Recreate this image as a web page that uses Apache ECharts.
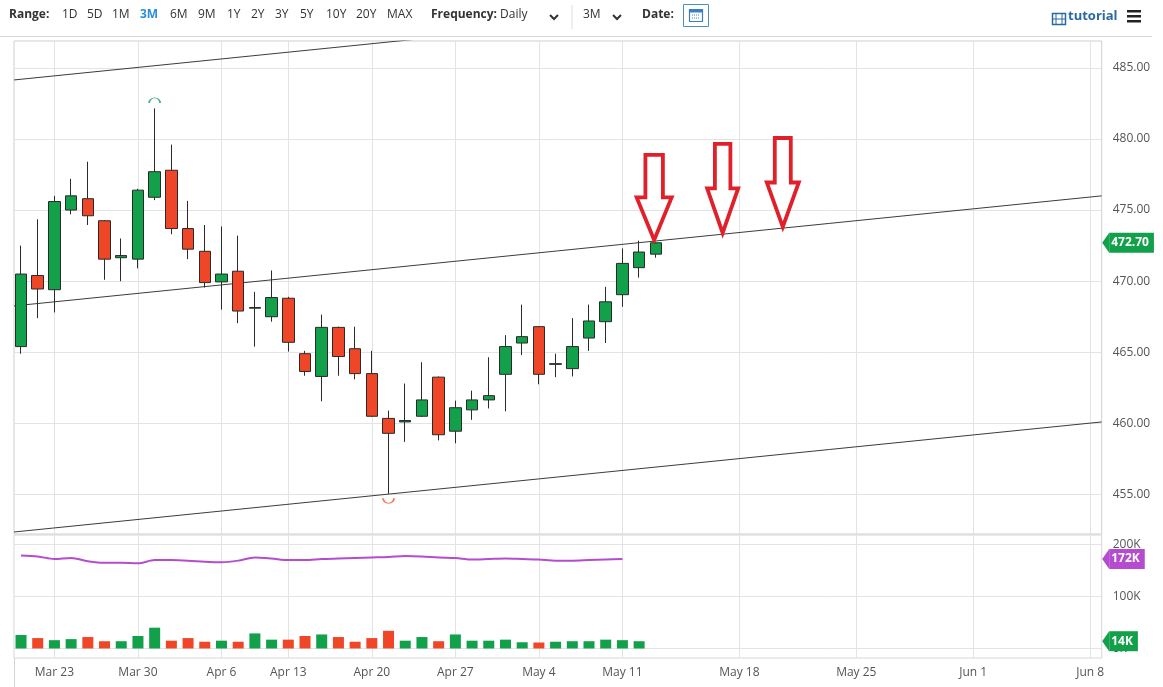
<!DOCTYPE html>
<html lang="en">
<head>
<meta charset="UTF-8">
<script src="https://cdn.jsdelivr.net/npm/echarts@6/dist/echarts.min.js"></script>
<title>Chart</title>
<style>
    html, body { margin: 0; padding: 0; background: #fff; }
    #main { width: 1163px; height: 687px; }
</style>
</head>
<body>
<div id="main"></div>
<script>
    // x ticks: trading-day index of each Monday label (future part runs on calendar days)
    var tickIdx = [2, 7, 12, 16, 21, 26, 31, 36, 43, 50, 57, 64];
    var tickLabels = ['Mar 23', 'Mar 30', 'Apr 6', 'Apr 13', 'Apr 20', 'Apr 27', 'May 4', 'May 11', 'May 18', 'May 25', 'Jun 1', 'Jun 8'];

    var opens  = [465.4, 470.4, 469.4, 475.0, 475.8, 474.25, 471.65, 471.55, 475.9, 477.8, 473.7, 472.1, 469.95, 470.7, 468.1, 467.5, 468.8, 464.9, 463.3, 466.75,
                  465.25, 463.5, 460.35, 460.1, 460.5, 463.25, 459.45, 460.95, 461.65, 463.45, 465.65, 466.8, 464.15, 463.85, 466.0, 467.15, 469.05, 470.95, 471.9];
    var closes = [470.5, 469.45, 475.6, 476.0, 474.6, 471.55, 471.8, 476.4, 477.7, 473.7, 472.25, 469.9, 470.5, 467.9, 468.15, 468.85, 465.7, 463.65, 466.75, 464.7,
                  463.5, 460.5, 459.3, 460.2, 461.65, 459.2, 461.1, 461.65, 461.95, 465.4, 466.1, 463.45, 464.2, 465.4, 467.2, 468.55, 471.25, 472.05, 472.7];
    var lows   = [464.9, 467.4, 467.8, 474.7, 473.95, 470.1, 470.0, 470.9, 475.7, 473.3, 471.55, 469.55, 468.0, 467.05, 465.4, 467.15, 465.05, 463.35, 461.55, 463.35,
                  463.1, 460.45, 455.05, 458.7, 460.45, 458.8, 458.6, 460.25, 461.05, 460.85, 464.8, 462.75, 463.25, 463.3, 465.1, 465.65, 468.2, 470.25, 471.65];
    var highs  = [472.5, 474.35, 476.0, 477.2, 478.4, 474.3, 473.0, 476.5, 482.15, 479.6, 475.65, 473.95, 473.85, 473.2, 469.25, 470.75, 468.9, 465.1, 467.65, 466.8,
                  466.8, 465.1, 460.9, 462.8, 464.3, 463.3, 461.6, 462.3, 464.65, 466.2, 468.35, 466.85, 464.9, 467.4, 468.35, 469.6, 472.3, 472.85, 472.75];

    // volume in K, and its moving average in K
    var volumes = [26, 20, 16, 18, 22, 14, 14, 24, 40, 15, 20, 13, 15, 13, 29, 17, 17, 24, 27, 22,
                   13, 20, 34, 15, 22, 14, 27, 15, 15, 17, 12, 11.5, 13, 14, 14, 17, 16, 14];
    var volumeAvg = [179, 177, 172, 174, 168, 165, 165, 164, 170, 170, 169, 167, 166, 169, 175, 173, 170, 170, 172, 173,
                     174, 175, 176, 178, 177, 175, 174, 171, 172, 173, 172, 171, 169, 169, 170, 171, 172];

    var priceTicks = [455, 460, 465, 470, 475, 480, 485];
    var volumeTicks = [0, 100, 200];

    // hand-drawn channel: price at left edge and at right edge
    var channelStart = [484.15, 468.26, 452.36];
    var channelEnd   = [491.9, 476.0, 460.1];

    // red arrows: tip position (index, price)
    var arrowIdx   = [37.9, 42.0, 45.6];
    var arrowPrice = [472.9, 473.39, 473.81];

    var GREEN = '#12a04a';
    var RED = '#ee4626';
    var PURPLE = '#b54ccf';
    var XMIN = -0.42, XMAX = 64.69;

    var chart = echarts.init(document.getElementById('main'));

    var candles = [];
    for (var i = 0; i < opens.length; i++) {
        candles.push([i, opens[i], closes[i], lows[i], highs[i]]);
    }
    var volBars = [];
    for (var i = 0; i < volumes.length; i++) {
        volBars.push({
            value: [i, volumes[i]],
            itemStyle: { color: closes[i] >= opens[i] ? GREEN : RED }
        });
    }
    var avgLine = [];
    for (var i = 0; i < volumeAvg.length; i++) {
        avgLine.push([i, volumeAvg[i]]);
    }

    function tag(coord, text, color) {
        return {
            coord: coord,
            symbol: 'path://M10,0 L10,10 L0,5 Z',
            symbolSize: [7, 20],
            symbolOffset: [4, 0],
            itemStyle: { color: color },
            label: {
                show: true,
                position: 'right',
                distance: 0,
                formatter: text,
                color: '#fff',
                fontWeight: 'bold',
                fontSize: 12,
                fontFamily: '"Open Sans", sans-serif',
                backgroundColor: color,
                padding: [3, 5, 3, 2],
                lineHeight: 14
            }
        };
    }

    // outline arrow path; drawn in a square symbol box with kept aspect so the stroke stays even
    function arrowPath(w, h) {
        var s0 = w * 0.25, s1 = w * 0.75, hy = h * 0.5;
        return 'path://M' + s0 + ',0 L' + s1 + ',0 L' + s1 + ',' + hy + ' L' + w + ',' + hy +
            ' L' + (w / 2) + ',' + h + ' L0,' + hy + ' L' + s0 + ',' + hy + ' Z';
    }

    var channelSeries = [];
    for (var k = 0; k < channelStart.length; k++) {
        var s = {
            type: 'line',
            xAxisIndex: 0,
            yAxisIndex: 0,
            data: [[XMIN, channelStart[k]], [XMAX, channelEnd[k]]],
            symbol: 'none',
            silent: true,
            lineStyle: { color: '#3c3c3c', width: 1 },
            z: 3
        };
        if (k === 1) {
            var arrows = [];
            var sizes = [[35, 85], [31, 89], [32, 89]];
            for (var a = 0; a < arrowIdx.length; a++) {
                arrows.push({
                    coord: [arrowIdx[a], arrowPrice[a]],
                    symbol: arrowPath(sizes[a][0], sizes[a][1]),
                    symbolSize: [sizes[a][1], sizes[a][1]],
                    symbolOffset: [0, -sizes[a][1] / 2]
                });
            }
            s.markPoint = {
                silent: true,
                symbolKeepAspect: true,
                itemStyle: { color: 'rgba(255,255,255,0)', borderColor: '#e0202a', borderWidth: 3.8, borderJoin: 'miter' },
                label: { show: false },
                data: arrows
            };
        }
        channelSeries.push(s);
    }

    var gridLine = { show: true, lineStyle: { color: '#e3e3e3', width: 1 } };
    var axisFont = { color: '#555', fontSize: 12, fontFamily: '"Open Sans", sans-serif' };

    var TB = '12px "Open Sans"';
    var TBB = 'bold 12px "Open Sans"';
    var toolbar = [];
    toolbar.push({ type: 'text', left: 9, top: 9, style: { text: 'Range:', font: TBB, fill: '#333' } });
    var ranges = [['1D', 62], ['5D', 87], ['1M', 112], ['3M', 140], ['6M', 170], ['9M', 198], ['1Y', 227], ['2Y', 251],
                  ['3Y', 275], ['5Y', 300], ['10Y', 326], ['20Y', 356], ['MAX', 387]];
    for (var r = 0; r < ranges.length; r++) {
        var on = ranges[r][0] === '3M';
        toolbar.push({ type: 'text', left: ranges[r][1], top: 9,
            style: { text: ranges[r][0], font: on ? TBB : TB, fill: on ? '#2b8fd8' : '#333' } });
    }
    toolbar.push({ type: 'text', left: 431, top: 9, style: { text: 'Frequency:', font: TBB, fill: '#333' } });
    toolbar.push({ type: 'text', left: 500, top: 9, style: { text: 'Daily', font: TB, fill: '#333' } });
    toolbar.push({ type: 'polyline', shape: { points: [[550, 15], [554, 19], [558, 15]] }, style: { stroke: '#333', lineWidth: 2, fill: null } });
    toolbar.push({ type: 'line', shape: { x1: 572, y1: 5, x2: 572, y2: 29 }, style: { stroke: '#ddd', lineWidth: 1 } });
    toolbar.push({ type: 'text', left: 583, top: 9, style: { text: '3M', font: TB, fill: '#333' } });
    toolbar.push({ type: 'polyline', shape: { points: [[613, 15], [617, 19], [621, 15]] }, style: { stroke: '#333', lineWidth: 2, fill: null } });
    toolbar.push({ type: 'text', left: 642, top: 9, style: { text: 'Date:', font: TBB, fill: '#333' } });
    toolbar.push({ type: 'rect', shape: { x: 683.5, y: 4.5, width: 25, height: 22 }, style: { fill: '#fff', stroke: '#4a90c8', lineWidth: 1 } });
    toolbar.push({ type: 'rect', shape: { x: 689.5, y: 9.5, width: 13, height: 12 }, style: { fill: '#fff', stroke: '#3a7fc0', lineWidth: 1.2 } });
    toolbar.push({ type: 'rect', shape: { x: 689.5, y: 9.5, width: 13, height: 3 }, style: { fill: '#3a7fc0' } });
    toolbar.push({ type: 'line', shape: { x1: 692, y1: 15, x2: 700, y2: 15 }, style: { stroke: '#3a7fc0', lineWidth: 1, lineDash: [1, 1] } });
    toolbar.push({ type: 'line', shape: { x1: 692, y1: 18, x2: 700, y2: 18 }, style: { stroke: '#3a7fc0', lineWidth: 1, lineDash: [1, 1] } });
    toolbar.push({ type: 'rect', shape: { x: 1052.5, y: 13.5, width: 13, height: 11 }, style: { fill: '#fff', stroke: '#2a6aa0', lineWidth: 1.5 } });
    toolbar.push({ type: 'line', shape: { x1: 1056, y1: 14, x2: 1056, y2: 24 }, style: { stroke: '#2a6aa0', lineWidth: 1 } });
    toolbar.push({ type: 'line', shape: { x1: 1062, y1: 14, x2: 1062, y2: 24 }, style: { stroke: '#2a6aa0', lineWidth: 1 } });
    toolbar.push({ type: 'line', shape: { x1: 1053, y1: 19, x2: 1065, y2: 19 }, style: { stroke: '#2a6aa0', lineWidth: 1 } });
    toolbar.push({ type: 'text', left: 1068, top: 10, style: { text: 'tutorial', font: 'bold 13px "Open Sans"', fill: '#2a6aa0' } });
    for (var h = 0; h < 3; h++) {
        toolbar.push({ type: 'rect', shape: { x: 1127, y: 10 + h * 5, width: 14, height: 2.5 }, style: { fill: '#222' } });
    }
    toolbar.push({ type: 'line', shape: { x1: 0, y1: 36.5, x2: 1152, y2: 36.5 }, style: { stroke: '#d8d8d8', lineWidth: 1 } });
    toolbar.push({ type: 'line', shape: { x1: 14.5, y1: 658, x2: 14.5, y2: 687 }, style: { stroke: '#d6d6d6', lineWidth: 1 } });

    var option = {
        animation: false,
        textStyle: { fontFamily: '"Open Sans", sans-serif' },
        graphic: toolbar,
        grid: [
            { left: 14, right: 61.3, top: 41, bottom: 153, show: true, borderColor: '#cfcfcf', borderWidth: 1 },
            { left: 14, right: 61.3, top: 535, bottom: 29, show: true, borderColor: '#d6d6d6', borderWidth: 1 }
        ],
        xAxis: [
            {
                type: 'value', gridIndex: 0, min: XMIN, max: XMAX,
                axisLine: { show: false },
                axisTick: { show: false, customValues: tickIdx },
                axisLabel: { show: false, customValues: tickIdx },
                splitLine: gridLine
            },
            {
                type: 'value', gridIndex: 1, min: XMIN, max: XMAX,
                axisLine: { show: false },
                axisTick: { show: false, customValues: tickIdx },
                axisLabel: Object.assign({
                    customValues: tickIdx,
                    margin: 9,
                    formatter: function (v) { return tickLabels[tickIdx.indexOf(Math.round(v))] || ''; }
                }, axisFont),
                splitLine: gridLine
            }
        ],
        yAxis: [
            {
                type: 'value', gridIndex: 0, position: 'right', min: 452.22, max: 486.89,
                axisLine: { show: false },
                axisTick: { show: false, customValues: priceTicks },
                axisLabel: Object.assign({
                    customValues: priceTicks,
                    margin: 11,
                    formatter: function (v) { return v.toFixed(2); }
                }, axisFont),
                splitLine: gridLine
            },
            {
                type: 'value', gridIndex: 1, position: 'right', min: -18.3, max: 218.3,
                axisLine: { show: false },
                axisTick: { show: false, customValues: volumeTicks },
                axisLabel: Object.assign({
                    customValues: volumeTicks,
                    margin: 11,
                    formatter: function (v) { return v + 'K'; }
                }, axisFont),
                splitLine: gridLine
            }
        ],
        series: [
            {
                type: 'candlestick',
                xAxisIndex: 0,
                yAxisIndex: 0,
                data: candles,
                barWidth: 12,
                z: 4,
                itemStyle: {
                    color: GREEN, color0: RED,
                    borderColor: '#2a2a2a', borderColor0: '#2a2a2a', borderWidth: 1
                },
                markPoint: {
                    silent: true,
                    data: [
                        {
                            coord: [highs.indexOf(Math.max.apply(null, highs)), Math.max.apply(null, highs)],
                            symbol: 'path://M0,10 A10,10 0 0 1 20,10',
                            symbolSize: [11, 5],
                            symbolOffset: [0, -8],
                            itemStyle: { color: 'rgba(255,255,255,0)', borderColor: '#4fae8a', borderWidth: 1.3 },
                            label: { show: false }
                        },
                        {
                            coord: [lows.indexOf(Math.min.apply(null, lows)), Math.min.apply(null, lows)],
                            symbol: 'path://M0,0 A10,10 0 0 0 20,0',
                            symbolSize: [11, 5],
                            symbolOffset: [0, 7],
                            itemStyle: { color: 'rgba(255,255,255,0)', borderColor: '#f07a5a', borderWidth: 1.3 },
                            label: { show: false }
                        },
                        tag([XMAX, closes[closes.length - 1]], closes[closes.length - 1].toFixed(2), GREEN)
                    ]
                }
            }
        ].concat(channelSeries).concat([
            {
                type: 'bar',
                xAxisIndex: 1,
                yAxisIndex: 1,
                data: volBars,
                barWidth: 11,
                markPoint: {
                    silent: true,
                    data: [tag([XMAX, volumes[volumes.length - 1]], volumes[volumes.length - 1] + 'K', GREEN)]
                }
            },
            {
                type: 'line',
                xAxisIndex: 1,
                yAxisIndex: 1,
                data: avgLine,
                symbol: 'none',
                smooth: 0.3,
                lineStyle: { color: PURPLE, width: 2 },
                markPoint: {
                    silent: true,
                    data: [tag([XMAX, volumeAvg[volumeAvg.length - 1]], volumeAvg[volumeAvg.length - 1] + 'K', PURPLE)]
                }
            }
        ])
    };

    chart.setOption(option);
</script>
</body>
</html>
